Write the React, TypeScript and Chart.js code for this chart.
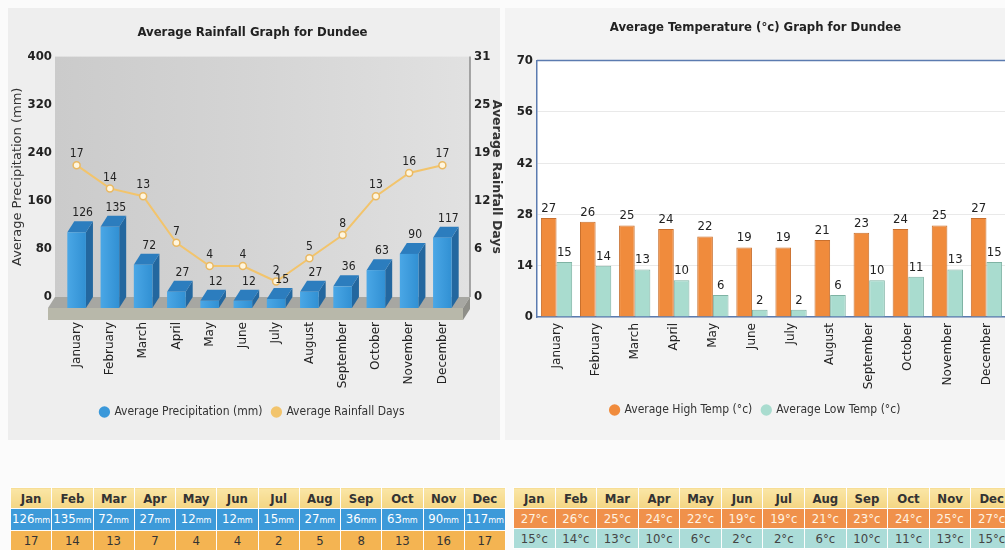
import React, { useEffect, useRef } from "react";
import { Chart, registerables } from "chart.js";

Chart.register(...registerables);

// ---------- data ----------
const monthNames = ["January", "February", "March", "April", "May", "June", "July", "August", "September", "October", "November", "December"];
const monthShort = ["Jan", "Feb", "Mar", "Apr", "May", "Jun", "Jul", "Aug", "Sep", "Oct", "Nov", "Dec"];
const precipitationMm = [126, 135, 72, 27, 12, 12, 15, 27, 36, 63, 90, 117];
const rainfallDays = [17, 14, 13, 7, 4, 4, 2, 5, 8, 13, 16, 17];
const highTempC = [27, 26, 25, 24, 22, 19, 19, 21, 23, 24, 25, 27];
const lowTempC = [15, 14, 13, 10, 6, 2, 2, 6, 10, 11, 13, 15];
const precipAxis = { max: 400, step: 80 };
const daysAxis = { max: 31, step: 6.2 };
const tempAxis = { max: 70, step: 14 };

// ---------- styles ----------
const NARROW = '"Liberation Sans Narrow", "DejaVu Sans Condensed", "Arial Narrow", "Roboto", sans-serif';
const VERDANA = '"DejaVu Sans", Verdana, sans-serif';
const BLUE = "#3a98da";
const RAIN_LINE = "#f2c46c";
const HIGH = "#f08b3c";
const LOW = "#a9dccf";

const DX = 7;
const DY = 11;
const SLAB = 12;

function poly(ctx: CanvasRenderingContext2D, pts: number[][]) {
  ctx.beginPath();
  ctx.moveTo(pts[0][0], pts[0][1]);
  for (let i = 1; i < pts.length; i++) ctx.lineTo(pts[i][0], pts[i][1]);
  ctx.closePath();
  ctx.fill();
}

const rain3dPlugin = {
  id: "rain3d",
  beforeDatasetsDraw(chart: any) {
    const { ctx, chartArea: a } = chart;
    const wl = a.left - 5;
    const wr = a.right + 11;
    ctx.save();
    const g = ctx.createLinearGradient(wl, 0, wr, 0);
    g.addColorStop(0, "#cbcbcb");
    g.addColorStop(0.5, "#d5d5d5");
    g.addColorStop(1, "#e1e1e1");
    ctx.fillStyle = g;
    ctx.fillRect(wl, a.top, wr - wl, a.bottom - a.top);
    ctx.strokeStyle = "#8c8c8c";
    ctx.lineWidth = 1.5;
    ctx.beginPath();
    ctx.moveTo(wr, a.top);
    ctx.lineTo(wr, a.bottom);
    ctx.stroke();
    // floor top
    ctx.fillStyle = "#a7a7a2";
    poly(ctx, [[wl, a.bottom], [wr, a.bottom], [wr - DX, a.bottom + DY], [wl - DX, a.bottom + DY]]);
    // floor front
    ctx.fillStyle = "#b8b8aa";
    ctx.fillRect(wl - DX, a.bottom + DY, wr - wl, SLAB);
    // floor right end
    ctx.fillStyle = "#8e8e88";
    poly(ctx, [[wr, a.bottom], [wr, a.bottom + SLAB], [wr - DX, a.bottom + DY + SLAB], [wr - DX, a.bottom + DY]]);
    ctx.restore();
  },
  beforeDatasetDraw(chart: any, args: any) {
    if (args.index !== 0) return;
    const { ctx } = chart;
    const meta = chart.getDatasetMeta(0);
    ctx.save();
    meta.data.forEach((el: any) => {
      const { x, y, base, width } = el.getProps(["x", "y", "base", "width"], true);
      const x0 = x - width / 2;
      const x1 = x + width / 2;
      const yt = y + DY;
      const yb = base + DY;
      ctx.fillStyle = "#23679f";
      poly(ctx, [[x1, yt], [x1 + DX, y], [x1 + DX, base], [x1, yb]]);
      ctx.fillStyle = "#2c7dbe";
      poly(ctx, [[x0, yt], [x0 + DX, y], [x1 + DX, y], [x1, yt]]);
      const fg = ctx.createLinearGradient(x0, 0, x1, 0);
      fg.addColorStop(0, "#4aa7e6");
      fg.addColorStop(1, "#3190d3");
      ctx.fillStyle = fg;
      ctx.fillRect(x0, yt, x1 - x0, yb - yt);
    });
    ctx.restore();
    return false;
  },
  afterDatasetsDraw(chart: any) {
    const { ctx } = chart;
    ctx.save();
    ctx.font = `12px ${NARROW}`;
    ctx.fillStyle = "#222";
    ctx.textAlign = "center";
    ctx.textBaseline = "bottom";
    const bars = chart.getDatasetMeta(0).data;
    bars.forEach((el: any, i: number) => {
      ctx.fillText(String(chart.data.datasets[0].data[i]), el.x + DX - 1, el.y - 2);
    });
    const pts = chart.getDatasetMeta(1).data;
    pts.forEach((el: any, i: number) => {
      ctx.fillText(String(chart.data.datasets[1].data[i]), el.x, el.y - 5);
    });
    ctx.restore();
  },
};

const tempPlugin = {
  id: "tempLabels",
  beforeDraw(chart: any) {
    const { ctx, chartArea: a } = chart;
    ctx.save();
    ctx.fillStyle = "#ffffff";
    ctx.fillRect(a.left, a.top, chart.width - a.left, a.bottom - a.top);
    ctx.restore();
  },
  afterDraw(chart: any) {
    const { ctx, chartArea: a } = chart;
    ctx.save();
    ctx.strokeStyle = "#5b7bb0";
    ctx.lineWidth = 1.5;
    ctx.beginPath();
    ctx.moveTo(a.left, a.top);
    ctx.lineTo(chart.width, a.top);
    ctx.stroke();
    ctx.restore();
  },
  afterDatasetsDraw(chart: any) {
    const { ctx } = chart;
    ctx.save();
    ctx.font = `13px ${NARROW}`;
    ctx.fillStyle = "#222";
    ctx.textAlign = "center";
    ctx.textBaseline = "bottom";
    chart.data.datasets.forEach((ds: any, di: number) => {
      chart.getDatasetMeta(di).data.forEach((el: any, i: number) => {
        ctx.fillText(String(ds.data[i]), el.x, el.y - 3);
      });
    });
    ctx.restore();
  },
};

function legendLabels(colors: string[]) {
  return (chart: any) =>
    chart.data.datasets.map((ds: any, i: number) => ({
      text: ds.label,
      fillStyle: colors[i],
      strokeStyle: colors[i],
      lineWidth: 0,
      pointStyle: "circle",
      hidden: false,
      datasetIndex: i,
      fontColor: "#333",
    }));
}

function RainChart() {
  const ref = useRef<HTMLCanvasElement>(null);
  useEffect(() => {
    const chart = new Chart(ref.current as HTMLCanvasElement, {
      type: "bar",
      data: {
        labels: monthNames,
        datasets: [
          {
            type: "bar",
            label: "Average Precipitation (mm)",
            data: precipitationMm,
            backgroundColor: BLUE,
            yAxisID: "y",
            order: 1,
            categoryPercentage: 0.8,
            barPercentage: 0.7,
          },
          {
            type: "line",
            label: "Average Rainfall Days",
            data: rainfallDays,
            borderColor: RAIN_LINE,
            borderWidth: 2,
            pointRadius: 3.5,
            pointBackgroundColor: "#fff6df",
            pointBorderColor: "#e9b862",
            pointBorderWidth: 1.5,
            yAxisID: "y1",
            order: 0,
            tension: 0,
          },
        ],
      } as any,
      options: {
        responsive: false,
        animation: false,
        devicePixelRatio: 1,
        layout: { padding: { top: 22, left: 0, right: 0, bottom: 12 } },
        plugins: {
          title: {
            display: true,
            text: "Average Rainfall Graph for Dundee",
            font: { family: NARROW, size: 13, weight: "bold" },
            color: "#222",
            padding: { top: 3, bottom: 16 },
          },
          legend: {
            position: "bottom",
            labels: {
              usePointStyle: true,
              boxWidth: 8,
              boxHeight: 8,
              padding: 10,
              font: { family: NARROW, size: 12 },
              color: "#333",
              generateLabels: legendLabels([BLUE, RAIN_LINE]),
            },
          },
          tooltip: { enabled: false },
        },
        scales: {
          x: {
            grid: { display: false, drawTicks: false },
            border: { display: false },
            ticks: { maxRotation: 90, minRotation: 90, autoSkip: false, padding: 25, font: { family: VERDANA, size: 12 }, color: "#222" },
            afterFit: (s: any) => {
              s.height = 99;
            },
          },
          y: {
            position: "left",
            min: 0,
            max: precipAxis.max,
            ticks: { stepSize: precipAxis.step, padding: 8, font: { family: NARROW, size: 13, weight: "bold" }, color: "#222" },
            grid: { display: false, drawTicks: false },
            border: { display: false },
            title: {
              display: true,
              text: "Average Precipitation (mm)",
              font: { family: VERDANA, size: 13 },
              color: "#333",
              padding: { top: 10, bottom: 0 },
            },
            afterFit: (s: any) => {
              s.width = 60;
            },
          },
          y1: {
            position: "right",
            min: 0,
            max: daysAxis.max,
            ticks: {
              stepSize: daysAxis.step,
              padding: 15,
              callback: (v: any) => String(Math.round(Number(v))),
              font: { family: NARROW, size: 13, weight: "bold" },
              color: "#222",
            },
            grid: { display: false, drawTicks: false },
            border: { display: false },
            title: {
              display: true,
              text: "Average Rainfall Days",
              font: { family: VERDANA, size: 12.5, weight: "bold" },
              color: "#333",
              padding: { top: 1, bottom: 0 },
            },
            afterFit: (s: any) => {
              s.width = 46;
            },
          },
        },
      } as any,
      plugins: [rain3dPlugin],
    });
    return () => chart.destroy();
  }, []);
  return <canvas ref={ref} width={505} height={440} style={{ position: "absolute", left: 0, top: 0, width: 505, height: 440 }} />;
}

function TempChart() {
  const ref = useRef<HTMLCanvasElement>(null);
  useEffect(() => {
    const chart = new Chart(ref.current as HTMLCanvasElement, {
      type: "bar",
      data: {
        labels: monthNames,
        datasets: [
          {
            label: "Average High Temp (°c)",
            data: highTempC,
            backgroundColor: HIGH,
            borderColor: "#c9702e",
            borderWidth: 1,
            categoryPercentage: 0.8,
            barPercentage: 1.0,
          },
          {
            label: "Average Low Temp (°c)",
            data: lowTempC,
            backgroundColor: LOW,
            borderColor: "#7fb3a4",
            borderWidth: 1,
            categoryPercentage: 0.8,
            barPercentage: 1.0,
          },
        ],
      },
      options: {
        responsive: false,
        animation: false,
        devicePixelRatio: 1,
        layout: { padding: { top: 17, left: 0, right: 31, bottom: 14 } },
        plugins: {
          title: {
            display: true,
            text: "Average Temperature (°c) Graph for Dundee",
            font: { family: NARROW, size: 13, weight: "bold" },
            color: "#222",
            padding: { top: 3, bottom: 25 },
          },
          legend: {
            position: "bottom",
            labels: {
              usePointStyle: true,
              boxWidth: 8,
              boxHeight: 8,
              padding: 10,
              font: { family: NARROW, size: 12 },
              color: "#333",
              generateLabels: legendLabels([HIGH, LOW]),
            },
          },
          tooltip: { enabled: false },
        },
        scales: {
          x: {
            grid: { display: false, drawTicks: false },
            border: { display: true, color: "#5b7bb0", width: 1.5 },
            ticks: { maxRotation: 90, minRotation: 90, autoSkip: false, padding: 6, font: { family: VERDANA, size: 12 }, color: "#222" },
            afterFit: (s: any) => {
              s.height = 77;
            },
          },
          y: {
            min: 0,
            max: tempAxis.max,
            ticks: { stepSize: tempAxis.step, padding: 4, font: { family: NARROW, size: 13, weight: "bold" }, color: "#222" },
            grid: { drawTicks: false, color: "#e9e9e9" },
            border: { display: true, color: "#5b7bb0", width: 1.5 },
            afterFit: (s: any) => {
              s.width = 32;
            },
          },
        },
      } as any,
      plugins: [tempPlugin],
    });
    return () => chart.destroy();
  }, []);
  return <canvas ref={ref} width={532} height={440} style={{ position: "absolute", left: 505, top: 0, width: 532, height: 440 }} />;
}

const cellBase: React.CSSProperties = {
  padding: 0,
  height: 19,
  textAlign: "center",
  verticalAlign: "middle",
  border: "1px solid rgba(255,255,255,0.6)",
  fontFamily: NARROW,
  fontSize: 13,
  lineHeight: "19px",
  overflow: "hidden",
  whiteSpace: "nowrap",
};
const hdrCell: React.CSSProperties = {
  ...cellBase,
  height: 20,
  background: "linear-gradient(#fae6a6, #f4d583)",
  color: "#333",
  fontWeight: "bold",
};

function RainTable() {
  return (
    <table style={{ position: "absolute", left: 10, top: 487, width: 496, borderCollapse: "collapse", tableLayout: "fixed" }}>
      <tbody>
        <tr>
          {monthShort.map((m) => (
            <td key={m} style={hdrCell}>{m}</td>
          ))}
        </tr>
        <tr>
          {precipitationMm.map((v, i) => (
            <td key={i} style={{ ...cellBase, background: "#3d9ad9", color: "#ffffff" }}>
              {v}
              <span style={{ fontSize: 9 }}>mm</span>
            </td>
          ))}
        </tr>
        <tr>
          {rainfallDays.map((v, i) => (
            <td key={i} style={{ ...cellBase, background: "#f4b452", color: "#333" }}>{v}</td>
          ))}
        </tr>
      </tbody>
    </table>
  );
}

function TempTable() {
  return (
    <table style={{ position: "absolute", left: 513, top: 487, width: 500, borderCollapse: "collapse", tableLayout: "fixed" }}>
      <tbody>
        <tr>
          {monthShort.map((m) => (
            <td key={m} style={hdrCell}>{m}</td>
          ))}
        </tr>
        <tr>
          {highTempC.map((v, i) => (
            <td key={i} style={{ ...cellBase, background: "#f0914b", color: "#fff3e2" }}>{v}°c</td>
          ))}
        </tr>
        <tr>
          {lowTempC.map((v, i) => (
            <td key={i} style={{ ...cellBase, background: "#abdcd8", color: "#444" }}>{v}°c</td>
          ))}
        </tr>
      </tbody>
    </table>
  );
}

export default function App() {
  return (
    <div style={{ position: "absolute", left: 0, top: 0, width: 1005, height: 550, overflow: "hidden", background: "#fbfbfb" }}>
      <div style={{ position: "absolute", left: 8, top: 8, width: 492, height: 432, background: "#eeeeee" }} />
      <div style={{ position: "absolute", left: 505, top: 8, width: 500, height: 432, background: "#f3f3f3" }} />
      <RainChart />
      <TempChart />
      <RainTable />
      <TempTable />
    </div>
  );
}
